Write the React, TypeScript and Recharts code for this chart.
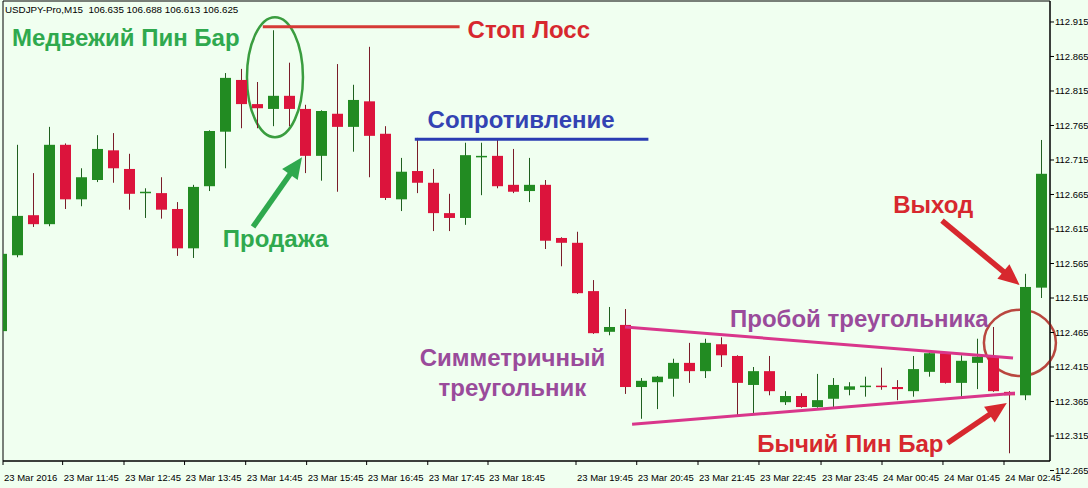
import React from "react";
import {
  ComposedChart,
  Bar,
  XAxis,
  YAxis,
  ReferenceLine,
  ReferenceArea,
  ReferenceDot,
} from "recharts";

// USDJPY M15 candles (left to right)
const opens = [
  112.467, 112.577, 112.635, 112.622, 112.737, 112.658, 112.686, 112.729, 112.702, 112.667,
  112.667, 112.644, 112.587, 112.677, 112.756, 112.831, 112.796, 112.789, 112.808, 112.789,
  112.721, 112.782, 112.763, 112.800, 112.753, 112.658, 112.699, 112.682, 112.638, 112.631,
  112.719, 112.721, 112.679, 112.670, 112.679, 112.602, 112.595, 112.525, 112.466, 112.476,
  112.386, 112.393, 112.398, 112.421, 112.409, 112.448, 112.431, 112.389, 112.409, 112.364,
  112.373, 112.357, 112.369, 112.382, 112.386, 112.388, 112.386, 112.380, 112.408, 112.435,
  112.392, 112.421, 112.430, 112.379, 112.374, 112.530,
];
const highs = [
  112.582, 112.737, 112.696, 112.763, 112.739, 112.703, 112.751, 112.754, 112.724, 112.674,
  112.690, 112.654, 112.679, 112.758, 112.841, 112.847, 112.828, 112.903, 112.856, 112.795,
  112.787, 112.854, 112.824, 112.879, 112.764, 112.718, 112.747, 112.702, 112.666, 112.740,
  112.740, 112.744, 112.731, 112.718, 112.686, 112.603, 112.611, 112.541, 112.502, 112.499,
  112.399, 112.402, 112.427, 112.450, 112.456, 112.458, 112.432, 112.415, 112.431, 112.380,
  112.377, 112.405, 112.399, 112.393, 112.401, 112.414, 112.396, 112.431, 112.436, 112.436,
  112.432, 112.456, 112.473, 112.380, 112.550, 112.744,
];
const lows = [
  112.447, 112.574, 112.618, 112.619, 112.644, 112.648, 112.683, 112.682, 112.643, 112.631,
  112.630, 112.576, 112.573, 112.670, 112.703, 112.761, 112.761, 112.764, 112.764, 112.696,
  112.685, 112.669, 112.727, 112.690, 112.657, 112.641, 112.667, 112.612, 112.612, 112.621,
  112.664, 112.674, 112.667, 112.654, 112.586, 112.561, 112.521, 112.463, 112.461, 112.376,
  112.340, 112.354, 112.372, 112.392, 112.399, 112.415, 112.345, 112.347, 112.374, 112.360,
  112.356, 112.356, 112.357, 112.374, 112.372, 112.382, 112.367, 112.372, 112.401, 112.391,
  112.372, 112.383, 112.379, 112.290, 112.367, 112.515,
];
const closes = [
  112.579, 112.634, 112.622, 112.737, 112.658, 112.690, 112.731, 112.703, 112.666, 112.669,
  112.643, 112.587, 112.676, 112.757, 112.834, 112.796, 112.790, 112.808, 112.789, 112.721,
  112.786, 112.763, 112.802, 112.750, 112.660, 112.698, 112.682, 112.638, 112.631, 112.722,
  112.721, 112.677, 112.669, 112.679, 112.598, 112.595, 112.522, 112.464, 112.473, 112.386,
  112.395, 112.401, 112.421, 112.409, 112.450, 112.432, 112.392, 112.409, 112.380, 112.373,
  112.357, 112.367, 112.389, 112.387, 112.388, 112.386, 112.383, 112.412, 112.435, 112.392,
  112.424, 112.430, 112.380, 112.374, 112.531, 112.695,
];

// time axis: label text and where it sits, in candle units
const timeLabels = [
  "23 Mar 2016", "23 Mar 11:45", "23 Mar 12:45", "23 Mar 13:45", "23 Mar 14:45",
  "23 Mar 15:45", "23 Mar 16:45", "23 Mar 17:45", "23 Mar 18:45", "23 Mar 19:45",
  "23 Mar 20:45", "23 Mar 21:45", "23 Mar 22:45", "23 Mar 23:45", "24 Mar 00:45",
  "24 Mar 01:45", "24 Mar 02:45",
];
const timeTickAt = [
  0.0625, 3.79, 7.625, 11.41, 15.23, 19.04, 22.79, 26.61, 30.375, 35.875, 39.67, 43.5,
  47.31, 51.19, 55.0, 58.81, 62.625,
];
const priceTicks = [
  112.265, 112.315, 112.365, 112.415, 112.465, 112.515, 112.565, 112.615, 112.665,
  112.715, 112.765, 112.815, 112.865, 112.915,
];

const X_DOMAIN: [number, number] = [0.0625, 65.5];
const Y_DOMAIN: [number, number] = [112.2788, 112.9454];

const candles = opens.map((open, i) => ({
  i,
  open,
  high: highs[i],
  low: lows[i],
  close: closes[i],
  range: [lows[i], highs[i]],
}));

const UP = "#228B22";
const DOWN = "#DC143C";
const WICK_UP = "#1f5f1f";
const WICK_DOWN = "#7a1d29";
const GREEN = "#2fa94e";
const RED = "#d7282e";
const BLUE = "#3343b3";
const PURPLE = "#9a4b9b";
const PINK = "#d9368b";
const AXIS_FONT = "'Liberation Sans', Arial, sans-serif";

const notes = [
  { text: "Медвежий Пин Бар", x: 0.62, y: 112.892, color: GREEN, anchor: "start" },
  { text: "Стоп Лосс", x: 29.1, y: 112.905, color: RED, anchor: "start" },
  { text: "Сопротивление", x: 26.6, y: 112.774, color: BLUE, anchor: "start" },
  { text: "Продажа", x: 13.8, y: 112.601, color: GREEN, anchor: "start" },
  { text: "Выход", x: 55.7, y: 112.650, color: RED, anchor: "start" },
  { text: "Пробой треугольника", x: 45.5, y: 112.486, color: PURPLE, anchor: "start" },
  { text: "Симметричный", x: 31.9, y: 112.429, color: PURPLE, anchor: "middle" },
  { text: "треугольник", x: 31.9, y: 112.386, color: PURPLE, anchor: "middle" },
  { text: "Бычий Пин Бар", x: 47.2, y: 112.305, color: RED, anchor: "start" },
];

const segments = [
  { a: [16.3, 112.908], b: [28.6, 112.908], color: "#d63a36" },
  { a: [25.8, 112.745], b: [40.4, 112.745], color: "#2a3cb2" },
  { a: [38.94, 112.473], b: [63.19, 112.428], color: PINK },
  { a: [39.38, 112.332], b: [63.31, 112.377], color: PINK },
];

const arrows = [
  { a: [15.69, 112.618], b: [18.75, 112.719], color: GREEN },
  { a: [58.75, 112.627], b: [63.6, 112.534], color: RED },
  { a: [59.1, 112.305], b: [62.8, 112.363], color: RED },
];

const rings = [
  { x1: 15.31, x2: 18.81, y1: 112.748, y2: 112.922, color: "#3a9d3f" },
  { x1: 61.37, x2: 65.87, y1: 112.402, y2: 112.498, color: "#b9473f" },
];

const Candle = (p: any) => {
  const { x, y, width, height, payload } = p;
  if (!payload) return null;
  const { open, close, high, low } = payload;
  const top = Math.min(y, y + height);
  const h = Math.abs(height);
  const at = (v: number) => top + ((high - v) / (high - low)) * h;
  const up = close >= open;
  const bodyTop = at(Math.max(open, close));
  const bodyBot = at(Math.min(open, close));
  const cx = x + width / 2;
  return (
    <g>
      <line x1={cx} x2={cx} y1={top} y2={top + h} stroke={up ? WICK_UP : WICK_DOWN} strokeWidth={1} />
      <rect
        x={x}
        y={bodyTop}
        width={width}
        height={Math.max(1.5, bodyBot - bodyTop)}
        fill={up ? UP : DOWN}
      />
    </g>
  );
};

const TimeTick = ({ x, y, payload }: any) => {
  const k = timeTickAt.indexOf(payload.value);
  return (
    <text x={x + 1} y={y} dy={14} textAnchor="start" fontSize={9.5} fill="#000" fontFamily={AXIS_FONT}>
      {timeLabels[k] ?? ""}
    </text>
  );
};

const arrowShape = (color: string) => (p: any) => {
  const { x1, y1, x2, y2 } = p;
  const dx = x2 - x1;
  const dy = y2 - y1;
  const len = Math.hypot(dx, dy) || 1;
  const ux = dx / len;
  const uy = dy / len;
  const headLen = 21;
  const headW = 19;
  const bx = x2 - ux * headLen;
  const by = y2 - uy * headLen;
  const nx = -uy;
  const ny = ux;
  return (
    <g>
      <line x1={x1} y1={y1} x2={bx + ux * 2} y2={by + uy * 2} stroke={color} strokeWidth={5.5} />
      <polygon
        points={`${x2},${y2} ${bx + (nx * headW) / 2},${by + (ny * headW) / 2} ${bx - (nx * headW) / 2},${by - (ny * headW) / 2}`}
        fill={color}
      />
    </g>
  );
};

export default function App() {
  return (
    <div
      style={{
        position: "fixed",
        left: 0,
        top: 0,
        width: 1088,
        height: 488,
        background: "#F0FFF0",
      }}
    >
      <div
        style={{
          position: "absolute",
          left: 5,
          top: 4,
          fontSize: 9.8,
          fontFamily: AXIS_FONT,
          color: "#000",
          whiteSpace: "pre",
          lineHeight: "11px",
        }}
      >
        {"USDJPY-Pro,M15  106.635 106.688 106.613 106.625"}
      </div>
      <ComposedChart
        width={1088}
        height={488}
        data={candles}
        margin={{ top: 1, right: 0, bottom: 0, left: 3 }}
      >
        <XAxis
          type="number"
          dataKey="i"
          domain={X_DOMAIN}
          allowDataOverflow
          ticks={timeTickAt}
          interval={0}
          height={27}
          tickSize={4}
          tickLine={{ stroke: "#000" }}
          axisLine={{ stroke: "#000" }}
          tick={(p: any) => <TimeTick {...p} />}
        />
        <YAxis
          orientation="right"
          domain={Y_DOMAIN}
          allowDataOverflow
          ticks={priceTicks}
          interval={0}
          width={38}
          tickSize={4}
          tickMargin={1}
          tickLine={{ stroke: "#000" }}
          axisLine={{ stroke: "#000" }}
          tick={{ fontSize: 9.5, fill: "#000", fontFamily: AXIS_FONT }}
          tickFormatter={(v: number) => v.toFixed(3)}
        />
        <ReferenceArea
          x1={X_DOMAIN[0]}
          x2={X_DOMAIN[1]}
          y1={Y_DOMAIN[0]}
          y2={Y_DOMAIN[1]}
          fill="none"
          stroke="#000"
          strokeWidth={1}
          fillOpacity={0}
          ifOverflow="visible"
        />
        <Bar
          dataKey="range"
          barSize={11}
          isAnimationActive={false}
          shape={(p: any) => <Candle {...p} />}
        />
        {segments.map((s, k) => (
          <ReferenceLine
            key={`seg${k}`}
            segment={[
              { x: s.a[0], y: s.a[1] },
              { x: s.b[0], y: s.b[1] },
            ]}
            stroke={s.color}
            strokeWidth={3}
            ifOverflow="visible"
          />
        ))}
        {rings.map((r, k) => (
          <ReferenceArea
            key={`ring${k}`}
            x1={r.x1}
            x2={r.x2}
            y1={r.y1}
            y2={r.y2}
            ifOverflow="visible"
            shape={(p: any) => (
              <ellipse
                cx={p.x + p.width / 2}
                cy={p.y + p.height / 2}
                rx={Math.abs(p.width) / 2}
                ry={Math.abs(p.height) / 2}
                fill="none"
                stroke={r.color}
                strokeWidth={2.5}
              />
            )}
          />
        ))}
        {arrows.map((a, k) => (
          <ReferenceLine
            key={`arr${k}`}
            segment={[
              { x: a.a[0], y: a.a[1] },
              { x: a.b[0], y: a.b[1] },
            ]}
            ifOverflow="visible"
            shape={arrowShape(a.color)}
          />
        ))}
        {notes.map((n, k) => (
          <ReferenceDot
            key={`note${k}`}
            x={n.x}
            y={n.y}
            r={0}
            ifOverflow="visible"
            shape={(p: any) => (
              <text
                x={p.cx}
                y={p.cy}
                dy="0.36em"
                textAnchor={n.anchor}
                fill={n.color}
                fontSize={24}
                fontWeight={700}
                fontFamily={AXIS_FONT}
              >
                {n.text}
              </text>
            )}
          />
        ))}
      </ComposedChart>
    </div>
  );
}
